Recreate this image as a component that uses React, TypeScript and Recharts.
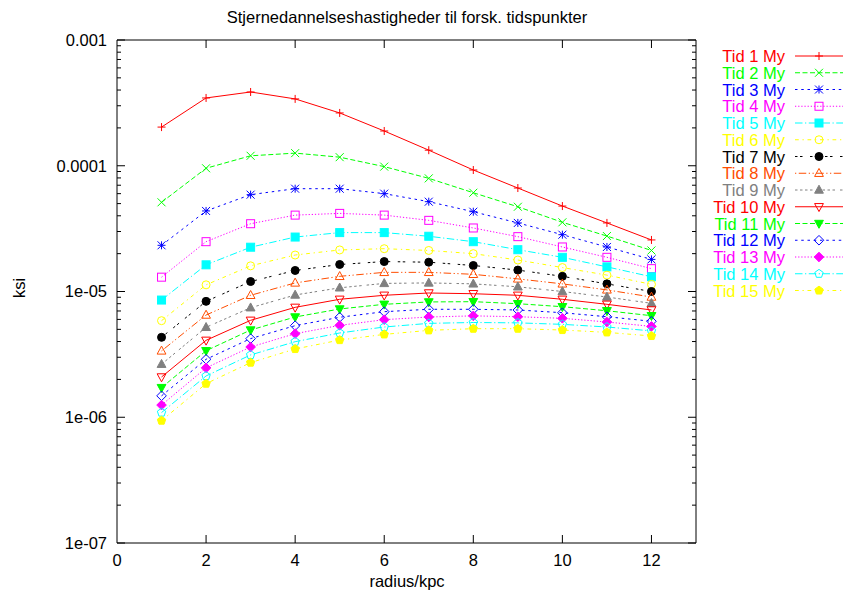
import { LineChart, Line, XAxis, YAxis } from 'recharts';

// radius (kpc) for every sample
const radii = [1, 2, 3, 4, 5, 6, 7, 8, 9, 10, 11, 12];

// star formation rate per time step
const tid1 = [2.03e-4, 3.46e-4, 3.86e-4, 3.4e-4, 2.63e-4, 1.89e-4, 1.33e-4, 9.25e-5, 6.65e-5, 4.78e-5, 3.51e-5, 2.57e-5];
const tid2 = [5.12e-5, 9.55e-5, 1.2e-4, 1.26e-4, 1.17e-4, 9.84e-5, 7.94e-5, 6.1e-5, 4.72e-5, 3.55e-5, 2.76e-5, 2.12e-5];
const tid3 = [2.33e-5, 4.37e-5, 5.89e-5, 6.57e-5, 6.57e-5, 6.0e-5, 5.18e-5, 4.31e-5, 3.51e-5, 2.83e-5, 2.26e-5, 1.8e-5];
const tid4 = [1.3e-5, 2.49e-5, 3.46e-5, 4.05e-5, 4.18e-5, 4.05e-5, 3.68e-5, 3.2e-5, 2.73e-5, 2.26e-5, 1.87e-5, 1.52e-5];
const tid5 = [8.55e-6, 1.63e-5, 2.25e-5, 2.71e-5, 2.94e-5, 2.94e-5, 2.75e-5, 2.49e-5, 2.15e-5, 1.87e-5, 1.57e-5, 1.31e-5];
const tid6 = [5.86e-6, 1.13e-5, 1.6e-5, 1.95e-5, 2.14e-5, 2.19e-5, 2.12e-5, 2.0e-5, 1.78e-5, 1.55e-5, 1.35e-5, 1.14e-5];
const tid7 = [4.32e-6, 8.35e-6, 1.2e-5, 1.47e-5, 1.64e-5, 1.73e-5, 1.71e-5, 1.61e-5, 1.48e-5, 1.32e-5, 1.15e-5, 1.0e-5];
const tid8 = [3.37e-6, 6.5e-6, 9.33e-6, 1.17e-5, 1.32e-5, 1.42e-5, 1.42e-5, 1.37e-5, 1.26e-5, 1.15e-5, 1.03e-5, 9.04e-6];
const tid9 = [2.64e-6, 5.19e-6, 7.43e-6, 9.38e-6, 1.07e-5, 1.16e-5, 1.17e-5, 1.15e-5, 1.09e-5, 1.0e-5, 9.04e-6, 8.05e-6];
const tid10 = [2.09e-6, 4.09e-6, 5.9e-6, 7.48e-6, 8.67e-6, 9.33e-6, 9.73e-6, 9.6e-6, 9.33e-6, 8.67e-6, 7.91e-6, 7.13e-6];
const tid11 = [1.72e-6, 3.38e-6, 4.94e-6, 6.27e-6, 7.26e-6, 7.91e-6, 8.26e-6, 8.3e-6, 8.0e-6, 7.57e-6, 7.03e-6, 6.42e-6];
const tid12 = [1.48e-6, 2.89e-6, 4.22e-6, 5.35e-6, 6.24e-6, 6.91e-6, 7.22e-6, 7.22e-6, 7.13e-6, 6.78e-6, 6.3e-6, 5.8e-6];
const tid13 = [1.25e-6, 2.47e-6, 3.62e-6, 4.62e-6, 5.38e-6, 5.97e-6, 6.27e-6, 6.4e-6, 6.3e-6, 6.12e-6, 5.72e-6, 5.28e-6];
const tid14 = [1.09e-6, 2.13e-6, 3.13e-6, 3.99e-6, 4.68e-6, 5.22e-6, 5.58e-6, 5.67e-6, 5.63e-6, 5.48e-6, 5.22e-6, 4.86e-6];
const tid15 = [9.4e-7, 1.85e-6, 2.72e-6, 3.49e-6, 4.11e-6, 4.56e-6, 4.91e-6, 5.06e-6, 5.06e-6, 4.94e-6, 4.73e-6, 4.43e-6];

const allSeries = [tid1, tid2, tid3, tid4, tid5, tid6, tid7, tid8, tid9, tid10, tid11, tid12, tid13, tid14, tid15];
const seriesNames = allSeries.map((_, i) => `Tid ${i + 1} My`);

// gnuplot postscript line types, cycling after 9
const lineColors = ['#ff0000', '#00ff00', '#0000ff', '#ff00ff', '#00ffff', '#ffff00', '#000000', '#ff4d00', '#808080'];
const lineDashes = ['', '5 2.5', '2.5 3.75', '1.25 1.9', '7.5 2.5 1.25 2.5', '3.75 3.75 1.25 3.75', '2.5 2.5 2.5 7.5', '1.25 2.5 7.5 2.5 1.25 2.5', '2.5 2.5 2.5 2.5 2.5 2.5 2.5 5'];

const xDomain = [0, 13];
const xTicks = [0, 2, 4, 6, 8, 10, 12];
const yDomain = [1e-7, 1e-3];
const yTicks = [1e-7, 1e-6, 1e-5, 1e-4, 1e-3];
const yTickLabels = ['1e-07', '1e-06', '1e-05', '0.0001', '0.001'];
const yMinorTicks = [1e-7, 1e-6, 1e-5, 1e-4].flatMap(d => [2, 3, 4, 5, 6, 7, 8, 9].map(m => m * d));

const data = radii.map((r, i) => {
  const row: Record<string, number> = { r };
  allSeries.forEach((s, k) => { row[`s${k}`] = s[i]; });
  return row;
});

const FONT = '"Liberation Sans", Arial, sans-serif';
const FS = 16.5;
const W = 845;
const H = 594;
const M = { top: 40, right: 149, left: 0, bottom: 0 };
const Y_AXIS_W = 117;
const X_AXIS_H = 51;
const PX = M.left + Y_AXIS_W;
const PY = M.top;
const PW = W - M.left - M.right - Y_AXIS_W;
const PH = H - M.top - M.bottom - X_AXIS_H;

function Marker({ cx, cy, kind, color }: { cx: number; cy: number; kind: number; color: string }) {
  const s = 4;
  const open = { fill: 'none', stroke: color, strokeWidth: 1, strokeDasharray: 'none' };
  const full = { fill: color, stroke: color, strokeWidth: 1, strokeDasharray: 'none' };
  const pts = (arr: number[][]) => arr.map(p => `${cx + p[0]},${cy + p[1]}`).join(' ');
  const pent = [0, 1, 2, 3, 4].map(k => {
    const a = (-90 + k * 72) * Math.PI / 180;
    return [s * 1.1 * Math.cos(a), s * 1.1 * Math.sin(a)];
  });
  switch (kind) {
    case 0:
      return <path d={`M${cx - s},${cy}H${cx + s}M${cx},${cy - s}V${cy + s}`} {...open} />;
    case 1:
      return <path d={`M${cx - s},${cy - s}L${cx + s},${cy + s}M${cx - s},${cy + s}L${cx + s},${cy - s}`} {...open} />;
    case 2:
      return <path d={`M${cx - s},${cy}H${cx + s}M${cx},${cy - s}V${cy + s}M${cx - s},${cy - s}L${cx + s},${cy + s}M${cx - s},${cy + s}L${cx + s},${cy - s}`} {...open} />;
    case 3:
      return <rect x={cx - s} y={cy - s} width={2 * s} height={2 * s} {...open} />;
    case 4:
      return <rect x={cx - s} y={cy - s} width={2 * s} height={2 * s} {...full} />;
    case 5:
      return <circle cx={cx} cy={cy} r={s} {...open} />;
    case 6:
      return <circle cx={cx} cy={cy} r={s} {...full} />;
    case 7:
      return <polygon points={pts([[0, -s * 1.2], [s * 1.1, s * 0.8], [-s * 1.1, s * 0.8]])} {...open} />;
    case 8:
      return <polygon points={pts([[0, -s * 1.2], [s * 1.1, s * 0.8], [-s * 1.1, s * 0.8]])} {...full} />;
    case 9:
      return <polygon points={pts([[0, s * 1.2], [s * 1.1, -s * 0.8], [-s * 1.1, -s * 0.8]])} {...open} />;
    case 10:
      return <polygon points={pts([[0, s * 1.2], [s * 1.1, -s * 0.8], [-s * 1.1, -s * 0.8]])} {...full} />;
    case 11:
      return <polygon points={pts([[0, -s * 1.2], [s * 1.2, 0], [0, s * 1.2], [-s * 1.2, 0]])} {...open} />;
    case 12:
      return <polygon points={pts([[0, -s * 1.2], [s * 1.2, 0], [0, s * 1.2], [-s * 1.2, 0]])} {...full} />;
    case 13:
      return <polygon points={pts(pent)} {...open} />;
    default:
      return <polygon points={pts(pent)} {...full} />;
  }
}

// legend and plot frame share one overlay group
function Overlay() {
  const ly0 = Math.log10(yDomain[0]);
  const ly1 = Math.log10(yDomain[1]);
  const yPos = (v: number) => PY + PH * (ly1 - Math.log10(v)) / (ly1 - ly0);
  const xPos = (v: number) => PX + PW * (v - xDomain[0]) / (xDomain[1] - xDomain[0]);
  let d = `M${PX},${PY}H${PX + PW}V${PY + PH}`;
  yTicks.forEach(v => { const y = yPos(v); d += `M${PX},${y}h8M${PX + PW},${y}h-8`; });
  yMinorTicks.forEach(v => { const y = yPos(v); d += `M${PX},${y}h4M${PX + PW},${y}h-4`; });
  xTicks.filter(v => v > xDomain[0]).forEach(v => { const x = xPos(v); d += `M${x},${PY + PH}v-8M${x},${PY}v8`; });
  return (
    <g fontFamily={FONT} fontSize={FS}>
      <path d={d} stroke="#000" strokeWidth={1} fill="none" />
      {seriesNames.map((name, i) => {
        const y = 56 + i * 16.75;
        const color = lineColors[i % 9];
        return (
          <g key={name}>
            <text x={785} y={y} textAnchor="end" dominantBaseline="central" fill={color}>{name}</text>
            <line x1={795} x2={843} y1={y} y2={y} stroke={color} strokeWidth={1} strokeDasharray={lineDashes[i % 9] || undefined} />
            <Marker cx={819} cy={y} kind={i} color={color} />
          </g>
        );
      })}
    </g>
  );
}

const tickStyle = { fill: '#000', fontSize: FS, fontFamily: FONT };

export default function App() {
  return (
    <div style={{ position: 'absolute', left: 0, top: 0, width: W, height: H, background: '#fff' }}>
      <LineChart width={W} height={H} data={data} margin={M}>
        <XAxis dataKey="r" type="number" domain={xDomain} ticks={xTicks} allowDataOverflow
          height={X_AXIS_H} tickLine={false} tickSize={6} tickMargin={5} axisLine={{ stroke: '#000' }} tick={tickStyle} interval={0} />
        <YAxis scale="log" type="number" domain={yDomain} ticks={yTicks} allowDataOverflow
          width={Y_AXIS_W} tickLine={false} tickSize={6} tickMargin={4} axisLine={{ stroke: '#000' }} tick={tickStyle}
          interval={0} tickFormatter={(v: number) => yTickLabels[yTicks.indexOf(v)] ?? ''} />

        {allSeries.map((_, k) => {
          const color = lineColors[k % 9];
          return (
            <Line key={k} dataKey={`s${k}`} name={seriesNames[k]} type="linear"
              stroke={color} strokeWidth={1} strokeDasharray={lineDashes[k % 9] || undefined}
              isAnimationActive={false}
              dot={(p: any) => <Marker key={`${k}-${p.index}`} cx={p.cx} cy={p.cy} kind={k} color={color} />}
              activeDot={false} />
          );
        })}

        <text x={407} y={17} textAnchor="middle" dominantBaseline="central" fontFamily={FONT} fontSize={FS} fill="#000">
          Stjernedannelseshastigheder til forsk. tidspunkter
        </text>
        <text x={407} y={581} textAnchor="middle" dominantBaseline="central" fontFamily={FONT} fontSize={FS} fill="#000">
          radius/kpc
        </text>
        <text x={19} y={288} textAnchor="middle" dominantBaseline="central" fontFamily={FONT} fontSize={FS} fill="#000"
          transform="rotate(-90 19 288)">
          ksi
        </text>
        <Overlay />
      </LineChart>
    </div>
  );
}
